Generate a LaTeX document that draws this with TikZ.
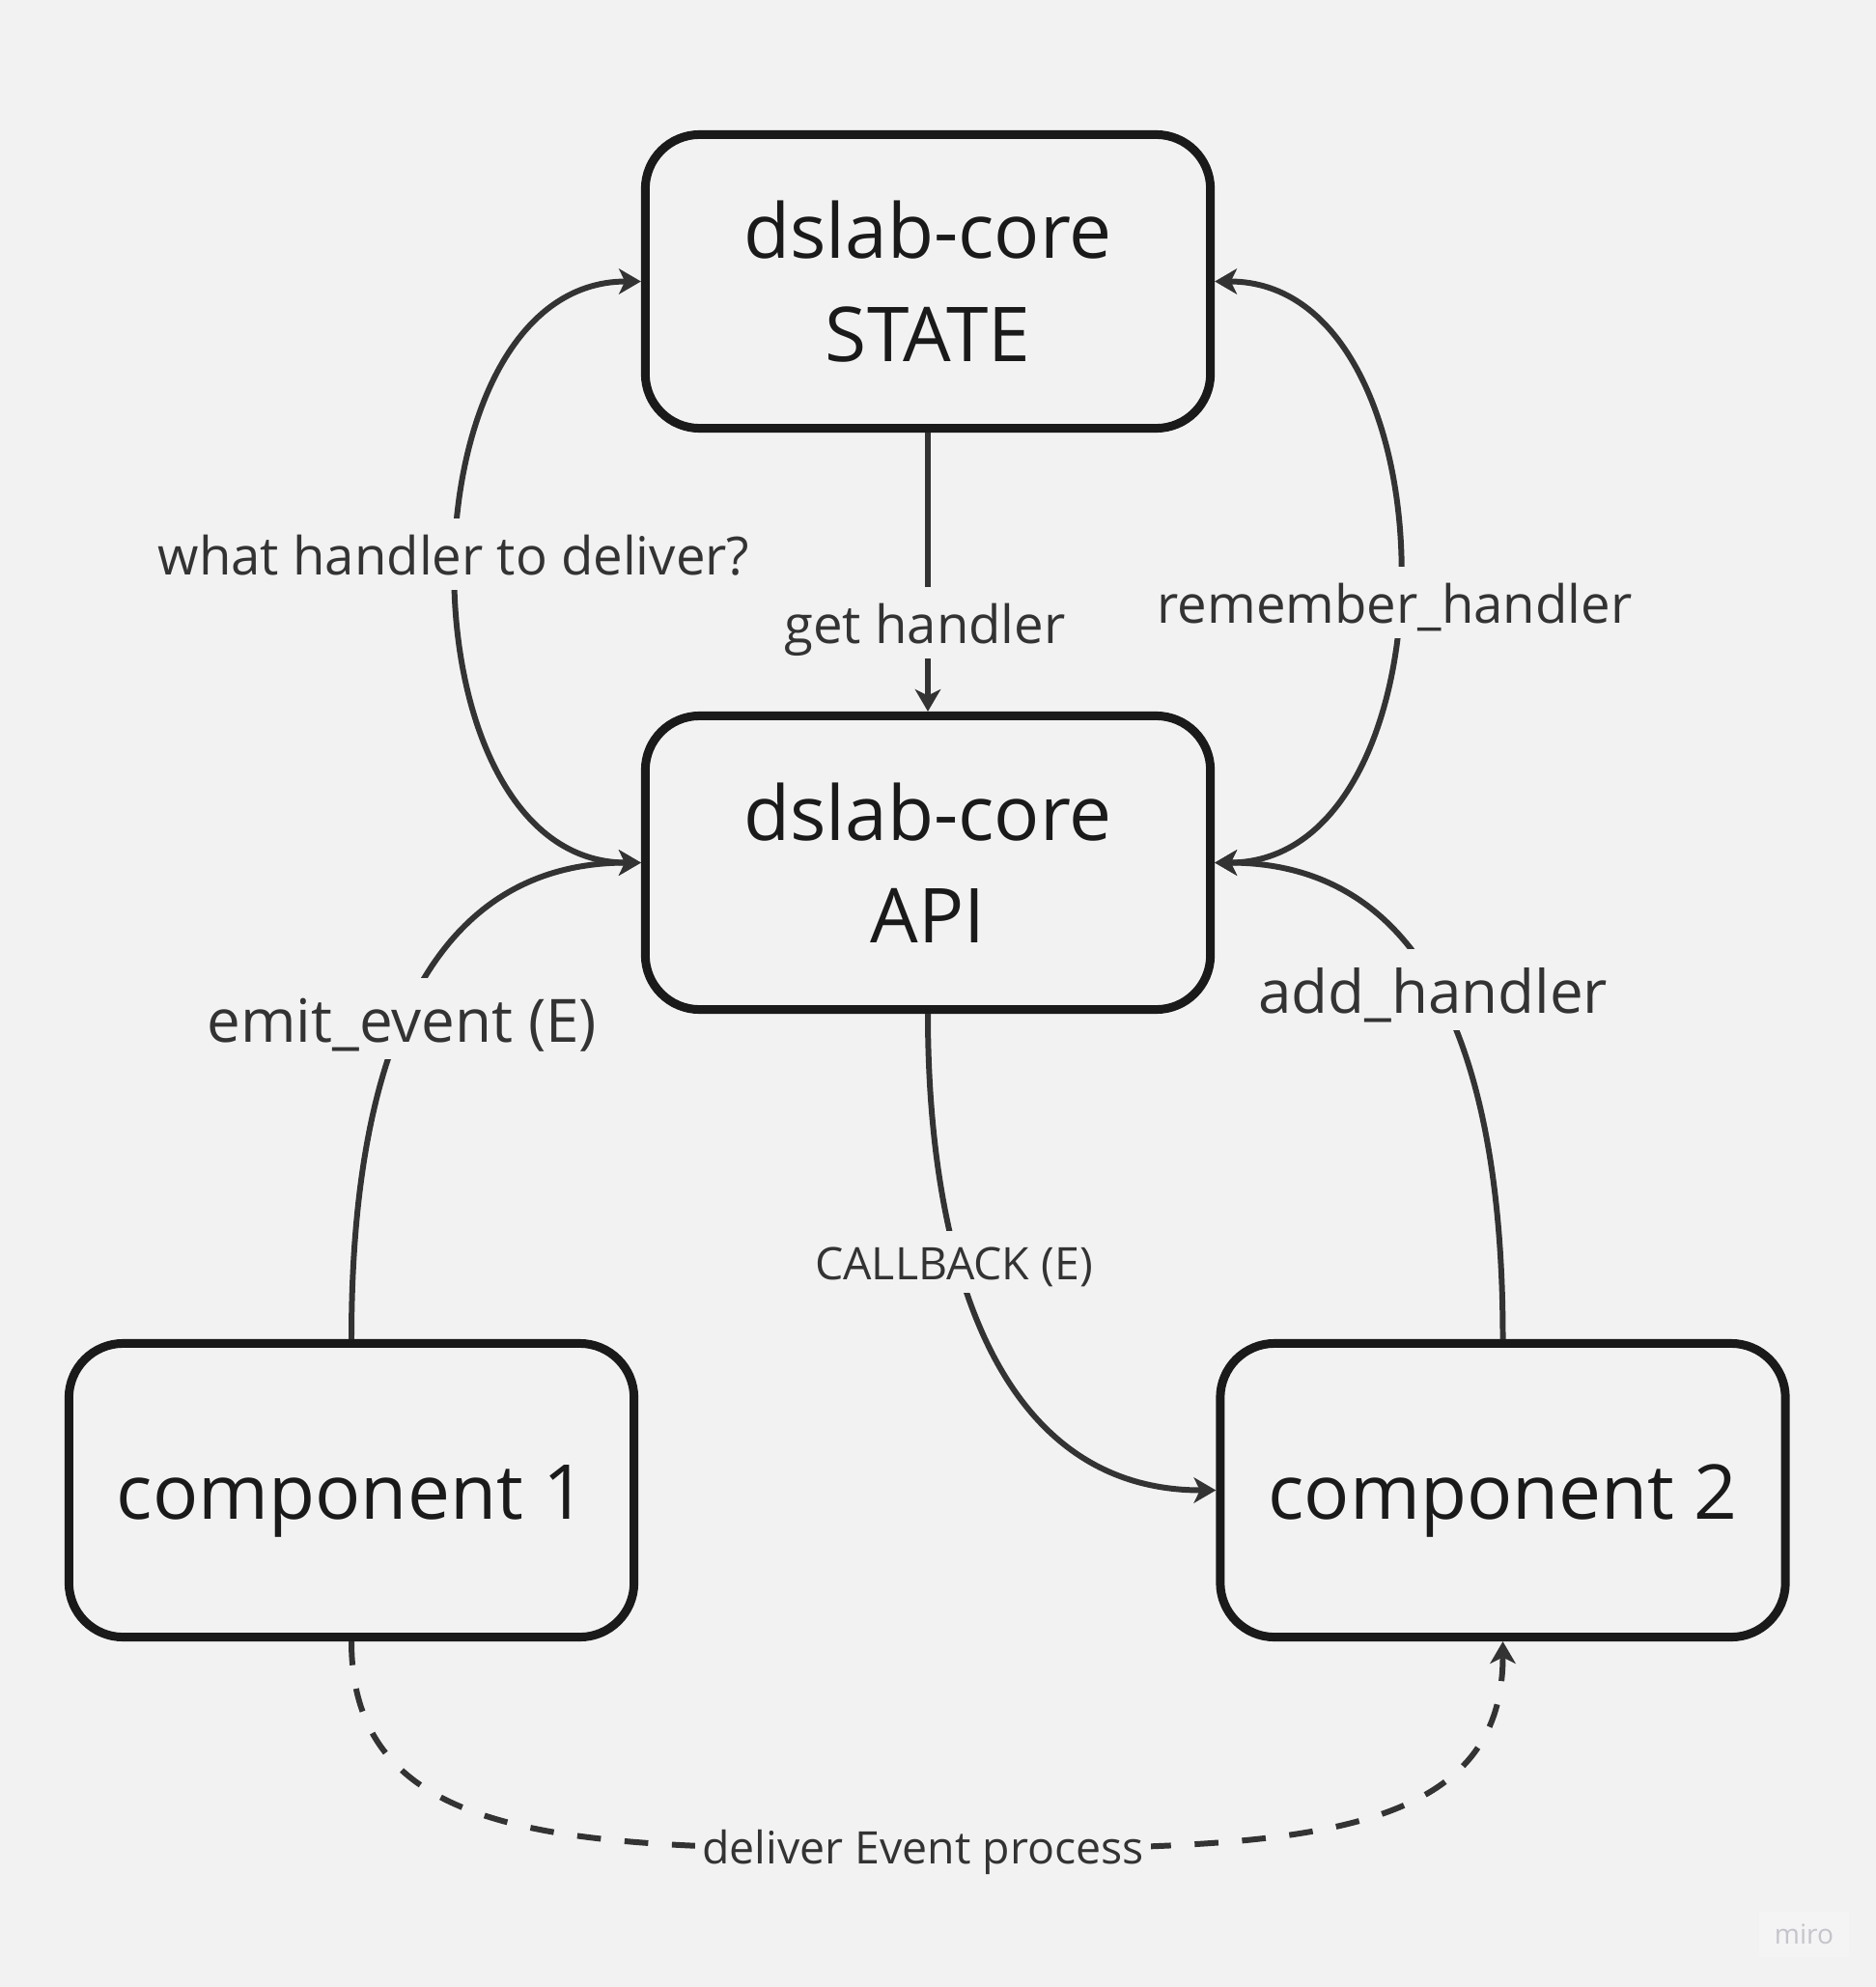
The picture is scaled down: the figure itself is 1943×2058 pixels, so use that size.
\documentclass[tikz,border=0pt]{standalone}
\usepackage{fontspec}
\setmainfont{Open Sans}
\usetikzlibrary{arrows.meta}
\definecolor{bg}{HTML}{F2F2F2}
\definecolor{boxc}{HTML}{1A1A1A}
\definecolor{linec}{HTML}{333333}
\definecolor{miroc}{HTML}{C4C4CC}
\definecolor{mirobg}{HTML}{F4F4F4}
\begin{document}
\begin{tikzpicture}[x=0.01cm, y=-0.01cm,
  box/.style={draw=boxc, line width=2.55pt, rounded corners=16pt,
    minimum width=5.85cm, minimum height=3.04cm, align=center, text=boxc,
    inner sep=0pt, font=\fontsize{22.3}{30.2}\selectfont},
  cbox/.style={text height=23.8pt, text depth=6.5pt},
  conn/.style={draw=linec, line width=1.7pt},
  arr/.style={-{Stealth[length=6.5pt,width=7.5pt,inset=1.8pt]}},
  biarr/.style={{Stealth[length=6.5pt,width=7.5pt,inset=1.8pt]}-{Stealth[length=6.5pt,width=7.5pt,inset=1.8pt]}},
  lbl/.style={fill=bg, text=linec, inner xsep=2pt, inner ysep=0pt, anchor=base},
  lblS/.style={lbl, font=\fontsize{15.5}{18}\selectfont, text height=16.57pt, text depth=4.54pt},
  lblM/.style={lbl, font=\fontsize{17.6}{21}\selectfont, text height=18.8pt, text depth=5.16pt},
  lblT/.style={lbl, font=\fontsize{13.2}{16}\selectfont, text height=14.11pt, text depth=3.87pt}
]
\useasboundingbox (0,0) rectangle (1943,2058);
\fill[bg] (0,0) rectangle (1943,2058);

\node[box] (state) at (961,291.5) {dslab-core\\STATE};
\node[box] (api) at (961,893.5) {dslab-core\\API};
\node[box, cbox] (c1) at (364,1543.5) {component 1};
\node[box, cbox] (c2) at (1556.5,1543.5) {component 2};
\coordinate (bottom) at (960.25,1915);

\draw[conn, arr] (state.south) -- (api.north);
\draw[conn, biarr] (state.west) .. controls +(-253,0) and +(-253,0) .. (api.west);
\draw[conn, biarr] (api.east) .. controls +(253,0) and +(253,0) .. (state.east);
\draw[conn, arr] (c1.north) .. controls +(0,-300) and +(-216,0) .. (api.west);
\draw[conn, arr] (c2.north) .. controls +(0,-300) and +(216,0) .. (api.east);
\draw[conn, arr] (api.south) .. controls +(0,250) and +(-230,0) .. (c2.west);
\draw[conn, arr, dash pattern=on 7pt off 7pt] (c1.south) .. controls +(0,214) and +(-360,0) .. (bottom) .. controls +(360,0) and +(0,214) .. (c2.south);

\node[lblS] (l1) at (470,595) {what handler to deliver?};
\node[lblS] (l2) at (958,666) {get handler};
\node[lblS] (l3) at (1444.5,645) {remember\_handler};
\node[lblM] (l4) at (416.5,1079) {emit\_event (E)};
\node[lblM] (l5) at (1484,1049) {add\_handler};
\node[lblT] (l6) at (988,1325) {CALLBACK (E)};
\node[lblT] (l7) at (956,1930) {deliver Event process};

\node[fill=mirobg, text=miroc, minimum width=0.93cm, minimum height=0.47cm, inner sep=0pt, font=\fontsize{8}{10}\selectfont] (miro) at (1868.5,2003.5) {miro};
\end{tikzpicture}
\end{document}
